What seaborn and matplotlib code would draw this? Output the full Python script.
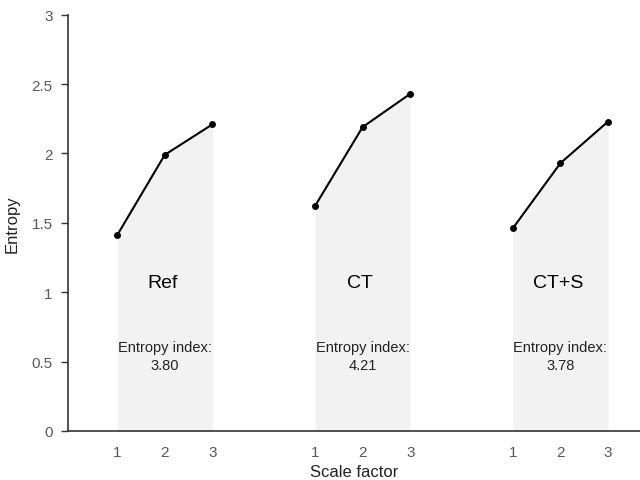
import matplotlib.pyplot as plt
import pandas as pd
import seaborn as sns
import numpy as np

# values
groups = ['Ref', 'CT', 'CT+S']
scales = [1, 2, 3]
ref_entropy = [1.41, 1.99, 2.21]
ct_entropy = [1.62, 2.19, 2.43]
cts_entropy = [1.46, 1.93, 2.23]
entropy_index = ['3.80', '4.21', '3.78']

group_gap = 4.15  # distance between groups along x

rows = []
for g, vals in enumerate([ref_entropy, ct_entropy, cts_entropy]):
    for s, v in zip(scales, vals):
        rows.append({'group': groups[g], 'scale': s, 'pos': s + g * group_gap, 'entropy': v})
df = pd.DataFrame(rows)

sns.set_style('white')
plt.rcParams['font.family'] = ['Liberation Sans', 'DejaVu Sans']

fig = plt.figure(figsize=(6.4, 4.81), dpi=100)
ax = fig.add_axes([68 / 640, 49 / 481, 572 / 640, 416.3 / 481])

for g in groups:
    d = df[df['group'] == g]
    ax.fill_between(d['pos'], 0, d['entropy'], color='#f2f2f2', lw=0, zorder=0)
    sns.lineplot(data=d, x='pos', y='entropy', color='black', lw=1.5,
                 marker='o', markersize=5, markeredgewidth=0, ax=ax)
    mid = d['pos'].mean()
    ax.text(mid - 0.05, 1.07, g, ha='center', va='center', fontsize=14, color='black')
    ax.text(mid, 0.54, 'Entropy index:\n' + entropy_index[groups.index(g)],
            ha='center', va='center', fontsize=10.5, color='#222222', linespacing=1.3)

ax.set_xlim(-0.03, 11.97)
ax.set_ylim(0, 3)
ax.set_xticks(df['pos'])
ax.set_xticklabels(df['scale'])
ax.set_yticks([0, 0.5, 1, 1.5, 2, 2.5, 3])
ax.set_yticklabels(['0', '0.5', '1', '1.5', '2', '2.5', '3'])
ax.tick_params(axis='x', length=0, pad=10, labelsize=11, labelcolor='#595959')
ax.tick_params(axis='y', left=True, length=5, width=1, color='#333333', pad=6,
               labelsize=11, labelcolor='#595959')
ax.set_xlabel('Scale factor', fontsize=12, color='#222222', labelpad=4)
ax.set_ylabel('Entropy', fontsize=12, color='#222222')
ax.yaxis.set_label_coords(-0.084, 0.5)

sns.despine(ax=ax, top=True, right=True)
for sp in ['left', 'bottom']:
    ax.spines[sp].set_color('#333333')
    ax.spines[sp].set_linewidth(1.2)

fig.savefig('out.png', dpi=100)
